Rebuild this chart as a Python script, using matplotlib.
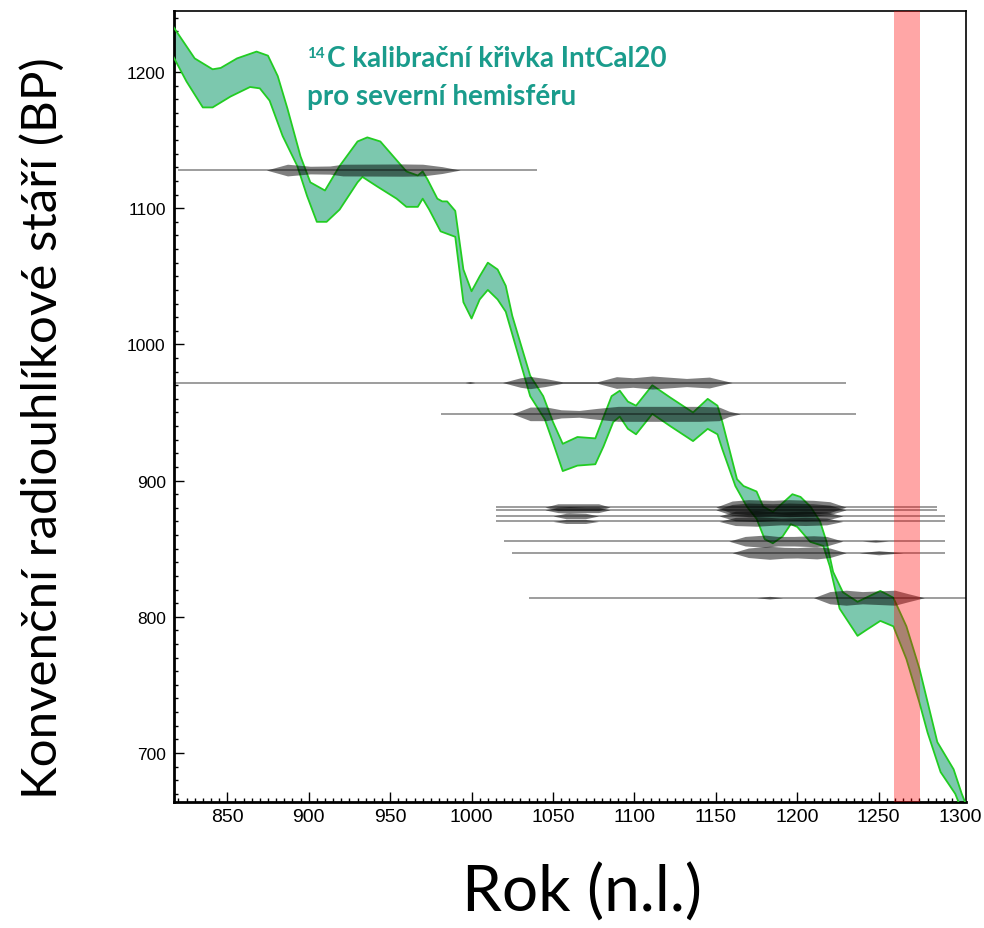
import numpy as np
import matplotlib
matplotlib.use('Agg')
import matplotlib.pyplot as plt
from matplotlib.ticker import MultipleLocator

# IntCal20 band - upper edge (year AD, BP)
upper_year = [817, 830, 841, 846, 856, 868, 875, 881, 887, 895,
              901, 910, 919, 930, 936, 944, 952, 960, 967, 970,
              973, 979, 982, 985, 990, 995, 1000, 1005, 1010, 1016,
              1021, 1025, 1036, 1044, 1050, 1056, 1065, 1076, 1086, 1091,
              1096, 1101, 1111, 1122, 1136, 1145, 1151, 1154, 1163, 1167,
              1175, 1179, 1185, 1197, 1202, 1208, 1214, 1218, 1222, 1228,
              1237, 1251, 1259, 1267, 1275, 1286, 1296, 1301, 1303]
upper_bp = [1233, 1210, 1202, 1203, 1210, 1215, 1212, 1197, 1173, 1138,
            1119, 1113, 1131, 1149, 1152, 1149, 1138, 1127, 1124, 1127,
            1121, 1107, 1105, 1105, 1098, 1055, 1039, 1050, 1060, 1055,
            1043, 1021, 977, 962, 943, 927, 932, 931, 962, 966,
            958, 955, 970, 961, 950, 960, 955, 943, 901, 896,
            892, 881, 877, 890, 888, 881, 870, 855, 833, 818,
            811, 819, 814, 793, 762, 708, 688, 670, 664]

# lower edge
lower_year = [817, 825, 835, 841, 852, 864, 870, 876, 884, 893,
              899, 905, 911, 919, 930, 933, 942, 954, 960, 967,
              970, 974, 981, 990, 995, 1000, 1005, 1010, 1016, 1021,
              1036, 1045, 1050, 1056, 1065, 1076, 1081, 1087, 1091, 1096,
              1101, 1111, 1122, 1136, 1145, 1151, 1154, 1162, 1169, 1175,
              1180, 1185, 1191, 1196, 1200, 1208, 1216, 1220, 1226, 1237,
              1242, 1251, 1259, 1267, 1275, 1280, 1288, 1297, 1299]
lower_bp = [1211, 1193, 1174, 1174, 1182, 1189, 1188, 1179, 1153, 1131,
            1109, 1090, 1090, 1099, 1119, 1123, 1116, 1107, 1101, 1101,
            1107, 1099, 1083, 1079, 1031, 1019, 1033, 1040, 1033, 1024,
            962, 945, 928, 907, 911, 912, 925, 943, 947, 938,
            934, 949, 940, 929, 938, 934, 923, 896, 881, 872,
            857, 854, 859, 868, 866, 855, 852, 837, 806, 786,
            790, 797, 793, 769, 737, 715, 686, 670, 664]

# measured dates: BP value, extent of the line, and the probability bulges
date_bp = [1128, 972, 949, 880.5, 878.5, 874, 870, 855.5, 847, 814]
date_start = [820, 817, 981, 1015, 1015, 1015, 1015, 1020, 1025, 1035]
date_end = [1040, 1230, 1236, 1286, 1286, 1291, 1291, 1291, 1291, 1310]
bulge_year = [
    [874, 887, 901, 913, 921, 958, 970, 982, 993],
    [996, 999, 1002, 1019, 1030, 1036, 1045, 1056, 1077, 1089, 1099, 1111, 1132, 1146, 1160],
    [1025, 1036, 1046, 1055, 1066, 1077, 1090, 1111, 1140, 1152, 1158, 1165],
    [1045, 1053, 1060, 1070, 1078, 1085, 1150, 1160, 1170, 1185, 1195, 1210, 1220, 1230],
    [1045, 1053, 1060, 1070, 1078, 1085, 1150, 1160, 1170, 1185, 1195, 1210, 1220, 1230],
    [1050, 1058, 1070, 1078, 1152, 1162, 1175, 1190, 1205, 1218, 1228],
    [1050, 1058, 1070, 1078, 1152, 1162, 1175, 1190, 1205, 1218, 1228],
    [1158, 1168, 1180, 1188, 1198, 1210, 1218, 1228, 1240, 1248, 1256],
    [1160, 1170, 1183, 1192, 1200, 1212, 1220, 1230, 1238, 1250, 1265],
    [1175, 1183, 1191, 1210, 1220, 1230, 1240, 1250, 1260, 1268, 1278],
]
bulge_hw = [
    [0, 4.3, 2.8, 3.0, 4.3, 4.5, 4.3, 2.5, 0],
    [0, 0.7, 0, 0, 3.5, 4.5, 3, 0.5, 0.5, 4.3, 3.5, 4.8, 3, 4, 0],
    [0, 5, 5, 3, 2.5, 4, 5.5, 5.5, 5.5, 5, 2, 0],
    [0, 2.5, 2.5, 2.5, 2.5, 0, 0, 4.5, 5.5, 5, 5.5, 5, 4, 0],
    [0, 2, 2.5, 2, 2, 0, 0, 4, 5, 4.5, 5, 4.5, 3.5, 0],
    [0, 2, 2, 0, 0, 3.5, 4, 3, 3.5, 3, 0],
    [0, 1.5, 1.5, 0, 0, 3, 3.5, 2.5, 3, 2.5, 0],
    [0, 3.5, 4.5, 3.5, 3.5, 4, 3.5, 0, 0, 0.8, 0],
    [0, 3.5, 4.8, 4, 3.8, 4.5, 3.5, 0, 0, 1.5, 0],
    [0, 1, 0, 0, 4.5, 5.5, 4.5, 5, 5.5, 3, 0],
]

# highlighted interval
span = (1259.5, 1275.5)

fig = plt.figure(figsize=(9.84, 9.29), dpi=100)
ax = fig.add_axes([174/984, 1-803/929, 792/984, 791/929])

# calibration band
poly_x = upper_year + lower_year[::-1]
poly_y = upper_bp + lower_bp[::-1]
ax.fill(poly_x, poly_y, color='#7cc8ae', lw=0, zorder=2)
ax.plot(upper_year, upper_bp, color='#22cc22', lw=1.3, zorder=3)
ax.plot(lower_year, lower_bp, color='#22cc22', lw=1.3, zorder=3)

# dates
for i in range(len(date_bp)):
    ax.hlines(date_bp[i], date_start[i], date_end[i], color='black', alpha=0.45, lw=1.2, zorder=4)
    yrs = np.array(bulge_year[i])
    hw = np.array(bulge_hw[i])
    ax.fill_between(yrs, date_bp[i] - hw, date_bp[i] + hw, color='black', alpha=0.5, lw=0, zorder=4)

ax.axvspan(span[0], span[1], color='red', alpha=0.35, lw=0, zorder=5)

ax.set_xlim(817.3, 1303.6)
ax.set_ylim(664, 1244.8)
ax.xaxis.set_major_locator(MultipleLocator(50))
ax.xaxis.set_minor_locator(MultipleLocator(5))
ax.yaxis.set_major_locator(MultipleLocator(100))
ax.yaxis.set_minor_locator(MultipleLocator(10))
ax.tick_params(which='both', direction='in', top=False, right=False, width=1)
ax.tick_params(which='major', length=7)
ax.tick_params(which='minor', length=3)
ax.tick_params(axis='x', pad=4, labelsize=14)
ax.tick_params(axis='y', pad=6, labelsize=12.5)
for lab in ax.get_xticklabels() + ax.get_yticklabels():
    lab.set_fontfamily('Liberation Sans')
for s in ['left', 'bottom']:
    ax.spines[s].set_linewidth(2)
for s in ['top', 'right']:
    ax.spines[s].set_linewidth(1.2)

tcol = '#1a9c8c'
fig.text(307/984, 1-58/929, '14', color=tcol, fontsize=11, fontweight='bold', family='Lato', va='baseline')
fig.text(327/984, 1-67/929, 'C kalibrační křivka IntCal20', color=tcol, fontsize=20, fontweight='bold',
         family='Lato', va='baseline')
fig.text(307/984, 1-105/929, 'pro severní hemisféru', color=tcol, fontsize=20, fontweight='bold',
         family='Lato', va='baseline')

fig.text(42/984, 1-428/929, 'Konvenční radiouhlíkové stáří (BP)', rotation=90, ha='center', va='center',
         fontsize=35.5, family='Lato')
fig.text(582/984, 1-893/929, 'Rok (n.l.)', ha='center', va='center', fontsize=46, family='Lato')

fig.savefig('out.png', dpi=100)
